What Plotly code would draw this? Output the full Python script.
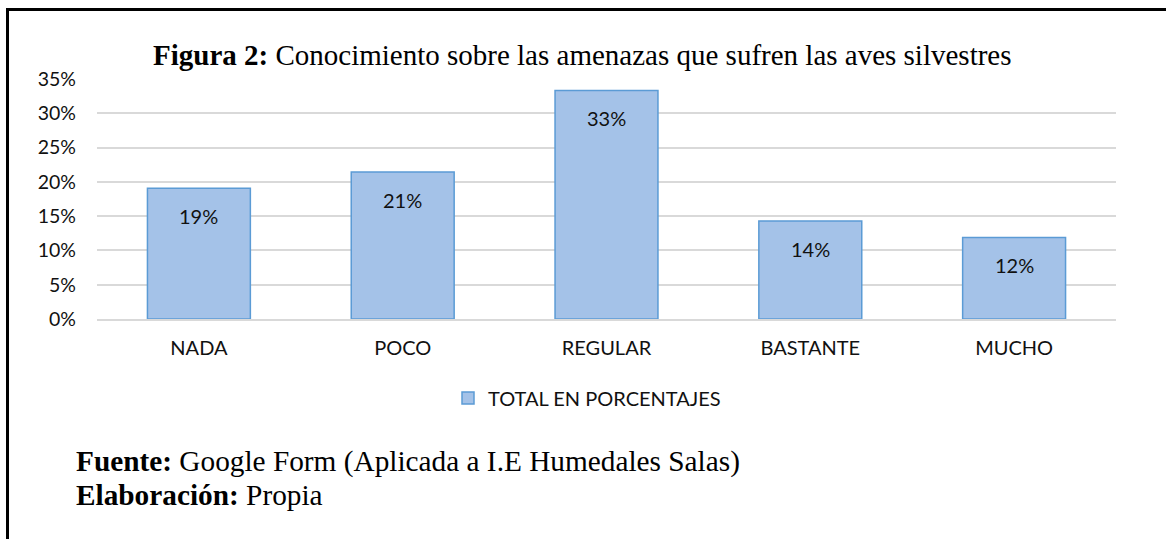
import plotly.graph_objects as go

categories = ["NADA", "POCO", "REGULAR", "BASTANTE", "MUCHO"]
values = [19.05, 21.43, 33.33, 14.29, 11.90]
labels = ["19%", "21%", "33%", "14%", "12%"]
series_name = "TOTAL EN PORCENTAJES"
y_ticks = [0, 5, 10, 15, 20, 25, 30, 35]
y_ticktext = [f"{t}%" for t in y_ticks]

W, H = 1166, 539
L, R, T, B = 97, 50, 79, 220
pw = W - L - R
ph = H - T - B

def px_x(x):
    return (x - L) / pw

def px_y(y):
    return (H - B - y) / ph

SANS = "Lato, Carlito, sans-serif"
SERIF = "Liberation Serif, Times New Roman, serif"

fig = go.Figure()
fig.add_trace(go.Bar(
    x=categories, y=values, name=series_name,
    marker=dict(color="#a4c2e8", line=dict(color="#5b9bd5", width=1.5)),
    width=0.505, showlegend=True, hoverinfo="skip",
))

for c, v, t in zip(categories, values, labels):
    fig.add_annotation(x=c, y=v, text=t, showarrow=False, yanchor="middle",
                       yshift=-28, font=dict(family=SANS, size=20, color="#111111"))

fig.update_layout(
    width=W, height=H,
    margin=dict(l=L, r=R, t=T, b=B),
    paper_bgcolor="white", plot_bgcolor="white",
    font=dict(family=SANS, size=20, color="#111111"),
    xaxis=dict(showgrid=False, ticks="", showline=True, linecolor="#d9d9d9", linewidth=1.5,
               tickfont=dict(size=20), ticklabelstandoff=10),
    yaxis=dict(range=[0, 35], tickvals=y_ticks, ticktext=y_ticktext,
               showgrid=True, gridcolor="#d9d9d9", gridwidth=1.5, zeroline=False,
               ticks="", showline=False, tickfont=dict(size=19.5), ticklabelstandoff=20),
    legend=dict(orientation="h", x=px_x(448), y=px_y(398), xanchor="left", yanchor="middle",
                font=dict(size=20), bgcolor="rgba(0,0,0,0)"),
    showlegend=True,
)

fig.add_annotation(
    text="<b>Figura 2:</b> Conocimiento sobre las amenazas que sufren las aves silvestres",
    xref="paper", yref="paper", x=px_x(582), y=px_y(55), xanchor="center", yanchor="middle",
    showarrow=False, font=dict(family=SERIF, size=29, color="#000000"),
)
fig.add_annotation(
    text="<b>Fuente:</b> Google Form (Aplicada a I.E Humedales Salas)",
    xref="paper", yref="paper", x=px_x(74), y=px_y(461), xanchor="left", yanchor="middle",
    showarrow=False, font=dict(family=SERIF, size=29.3, color="#000000"),
)
fig.add_annotation(
    text="<b>Elaboración:</b> Propia",
    xref="paper", yref="paper", x=px_x(74), y=px_y(495), xanchor="left", yanchor="middle",
    showarrow=False, font=dict(family=SERIF, size=29.3, color="#000000"),
)

# frame lines (top and left)
fig.add_shape(type="line", xref="paper", yref="paper",
              x0=px_x(6), x1=px_x(W + 5), y0=px_y(9.5), y1=px_y(9.5),
              line=dict(color="black", width=3))
fig.add_shape(type="line", xref="paper", yref="paper",
              x0=px_x(7.5), x1=px_x(7.5), y0=px_y(8), y1=px_y(H + 5),
              line=dict(color="black", width=3))

fig.write_html("out.html", config={"displayModeBar": False},
               post_script="document.body.style.margin='0px';")
